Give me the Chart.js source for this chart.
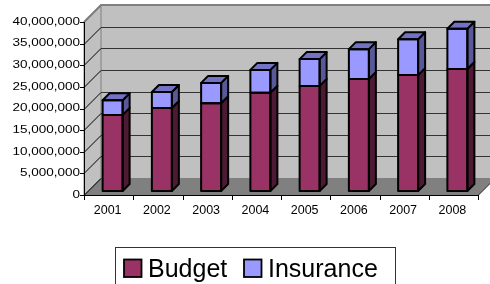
<!DOCTYPE html>
<html>
<head>
<meta charset="utf-8">
<script src="https://cdn.jsdelivr.net/npm/chart.js@4/dist/chart.umd.min.js"></script>
<style>
  html, body { margin: 0; padding: 0; background: #fff; }
</style>
</head>
<body>
<canvas id="grafico" width="490" height="284"></canvas>
<script>
// datos
const anios = ['2001', '2002', '2003', '2004', '2005', '2006', '2007', '2008'];
const budget = [17600000, 19200000, 20300000, 22700000, 24300000, 25900000, 26800000, 28200000];
const insurance = [3400000, 3700000, 4700000, 5300000, 6200000, 6900000, 8300000, 9300000];
const yTicks = [0, 5000000, 10000000, 15000000, 20000000, 25000000, 30000000, 35000000, 40000000];
const yLabels = ['0', '5,000,000', '10,000,000', '15,000,000', '20,000,000', '25,000,000', '30,000,000', '35,000,000', '40,000,000'];

const FUENTE = "'Liberation Sans', Arial, sans-serif";
const PROF = 17;      // profundidad de la pared
const OFF = 4;        // desplazamiento de la cara frontal de las barras
const DB = 7;         // profundidad de las barras

const colores = {
    budget: { frente: '#993366', lado: '#4d1933', arriba: '#73264d' },
    insurance: { frente: '#9999ff', lado: '#59599a', arriba: '#7373c6' }
};

// fondo 3D, ejes, etiquetas y leyenda
const fondo3d = {
    id: 'fondo3d',
    beforeDatasetsDraw(chart) {
        const ctx = chart.ctx;
        const x = chart.scales.x;
        const y = chart.scales.y;
        const izq = chart.chartArea.left, der = chart.chartArea.right;
        const y0 = y.getPixelForValue(0), yMax = y.getPixelForValue(40000000);

        ctx.save();
        // pared del fondo
        ctx.fillStyle = '#c0c0c0';
        ctx.fillRect(izq + PROF, yMax - PROF, der - izq + 20, y0 - yMax);
        // pared izquierda
        ctx.beginPath();
        ctx.moveTo(izq, yMax);
        ctx.lineTo(izq + PROF, yMax - PROF);
        ctx.lineTo(izq + PROF, y0 - PROF);
        ctx.lineTo(izq, y0);
        ctx.closePath();
        ctx.fill();
        ctx.strokeStyle = '#808080';
        ctx.lineWidth = 1;
        ctx.stroke();
        // piso
        ctx.fillStyle = '#808080';
        ctx.beginPath();
        ctx.moveTo(izq, y0);
        ctx.lineTo(izq + PROF, y0 - PROF);
        ctx.lineTo(der + PROF, y0 - PROF);
        ctx.lineTo(der, y0);
        ctx.closePath();
        ctx.fill();
        ctx.strokeStyle = '#000';
        ctx.beginPath();
        ctx.moveTo(der, y0 + 0.5);
        ctx.lineTo(der + PROF, y0 - PROF + 0.5);
        ctx.stroke();

        // lineas de cuadricula
        yTicks.forEach(v => {
            const py = Math.round(y.getPixelForValue(v)) + 0.5;
            ctx.strokeStyle = '#000';
            ctx.lineWidth = 1;
            ctx.beginPath();
            ctx.moveTo(izq, py);
            ctx.lineTo(izq + PROF, py - PROF);
            ctx.stroke();
            if (v > 0) {
                ctx.strokeStyle = '#333';
                ctx.beginPath();
                ctx.moveTo(izq + PROF, py - PROF);
                ctx.lineTo(chart.width, py - PROF);
                ctx.stroke();
            }
        });
        // borde superior de la pared
        ctx.strokeStyle = '#808080';
        ctx.lineWidth = 2;
        ctx.beginPath();
        ctx.moveTo(izq, yMax);
        ctx.lineTo(izq + PROF, yMax - PROF);
        ctx.lineTo(chart.width, yMax - PROF);
        ctx.stroke();

        // ejes
        ctx.strokeStyle = '#000';
        ctx.lineWidth = 1;
        ctx.beginPath();
        ctx.moveTo(izq + 0.5, yMax);
        ctx.lineTo(izq + 0.5, y0 + 0.5);
        ctx.lineTo(der, y0 + 0.5);
        ctx.stroke();
        yTicks.forEach(v => {
            const py = Math.round(y.getPixelForValue(v)) + 0.5;
            ctx.beginPath();
            ctx.moveTo(izq - 4, py);
            ctx.lineTo(izq, py);
            ctx.stroke();
        });
        const ancho = (der - izq) / anios.length;
        for (let i = 0; i <= anios.length; i++) {
            const px = Math.round(izq + i * ancho) + 0.5;
            ctx.beginPath();
            ctx.moveTo(px, y0);
            ctx.lineTo(px, y0 + 5);
            ctx.stroke();
        }

        // etiquetas eje y (estiradas como en el original)
        ctx.fillStyle = '#000';
        ctx.font = '10px ' + FUENTE;
        ctx.textAlign = 'right';
        ctx.textBaseline = 'middle';
        yTicks.forEach((v, i) => {
            ctx.save();
            ctx.translate(izq - 4, y.getPixelForValue(v));
            ctx.scale(1.35, 1);
            ctx.fillText(yLabels[i], 0, 0);
            ctx.restore();
        });
        // etiquetas eje x
        ctx.font = '12.5px ' + FUENTE;
        ctx.textAlign = 'center';
        ctx.textBaseline = 'alphabetic';
        anios.forEach((a, i) => {
            ctx.fillText(a, x.getPixelForValue(i) - 1, y0 + 19);
        });

        // leyenda
        ctx.strokeStyle = '#333';
        ctx.lineWidth = 1;
        ctx.strokeRect(115.5, 247.5, 280, 50);
        ctx.font = '25px ' + FUENTE;
        ctx.textAlign = 'left';
        const items = [
            { x: 124, texto: chart.data.datasets[0].label, color: colores.budget.frente },
            { x: 244, texto: chart.data.datasets[1].label, color: colores.insurance.frente }
        ];
        items.forEach(it => {
            ctx.fillStyle = it.color;
            ctx.fillRect(it.x, 259.5, 17.5, 17.5);
            ctx.strokeStyle = '#000';
            ctx.lineWidth = 1.8;
            ctx.strokeRect(it.x, 259.5, 17.5, 17.5);
            ctx.fillStyle = '#000';
            ctx.fillText(it.texto, it.x + 24, 277);
        });
        ctx.restore();

        // las caras frontales se dibujan desplazadas hacia el fondo
        ctx.save();
        ctx.translate(OFF, -OFF);
    },
    afterDatasetsDraw(chart) {
        const ctx = chart.ctx;
        const claves = ['budget', 'insurance'];
        ctx.lineWidth = 2;
        ctx.lineJoin = 'round';
        ctx.strokeStyle = '#000';
        for (let i = 0; i < anios.length; i++) {
            claves.forEach((k, d) => {
                const bar = chart.getDatasetMeta(d).data[i];
                const l = bar.x - bar.width / 2, r = bar.x + bar.width / 2;
                const t = bar.y, b = bar.base;
                // lado derecho
                ctx.fillStyle = colores[k].lado;
                ctx.beginPath();
                ctx.moveTo(r, t);
                ctx.lineTo(r + DB, t - DB);
                ctx.lineTo(r + DB, b - DB);
                ctx.lineTo(r, b);
                ctx.closePath();
                ctx.fill();
                ctx.stroke();
                // tapa superior solo en el segmento de arriba
                if (d === claves.length - 1) {
                    ctx.fillStyle = colores[k].arriba;
                    ctx.beginPath();
                    ctx.moveTo(l, t);
                    ctx.lineTo(l + DB, t - DB);
                    ctx.lineTo(r + DB, t - DB);
                    ctx.lineTo(r, t);
                    ctx.closePath();
                    ctx.fill();
                    ctx.stroke();
                }
                ctx.strokeRect(l, t, r - l, b - t);
            });
        }
        ctx.restore();
    }
};

new Chart(document.getElementById('grafico'), {
    type: 'bar',
    data: {
        labels: anios,
        datasets: [
            { label: 'Budget', data: budget, backgroundColor: colores.budget.frente, borderWidth: 0, clip: false },
            { label: 'Insurance', data: insurance, backgroundColor: colores.insurance.frente, borderWidth: 0, clip: false }
        ]
    },
    options: {
        responsive: false,
        animation: false,
        devicePixelRatio: 1,
        layout: { padding: { left: 84, right: 12, top: 22, bottom: 89 } },
        plugins: { legend: { display: false }, tooltip: { enabled: false } },
        datasets: { bar: { barThickness: 20 } },
        scales: {
            x: { display: false, stacked: true },
            y: { display: false, stacked: true, min: 0, max: 40000000 }
        }
    },
    plugins: [fondo3d]
});
</script>
</body>
</html>
